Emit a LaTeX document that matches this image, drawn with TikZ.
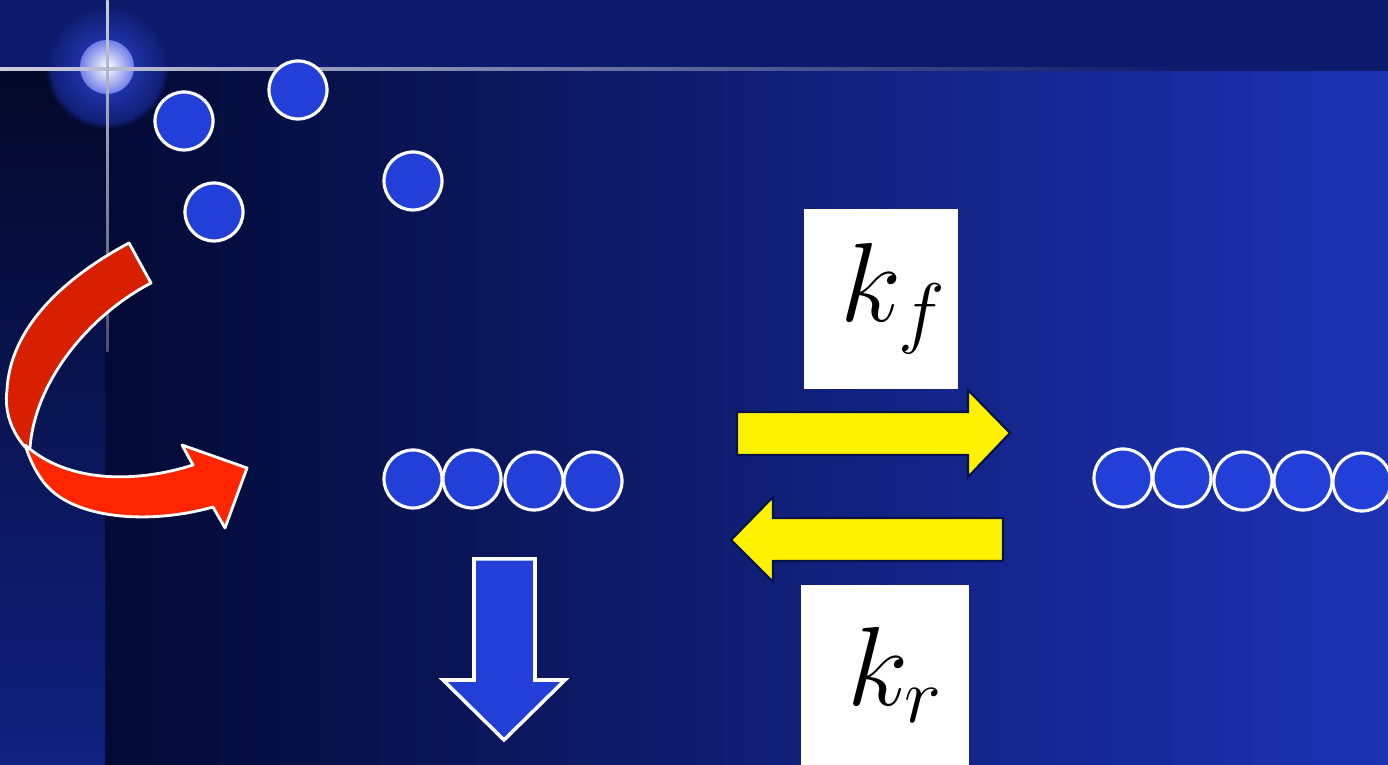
\documentclass[tikz,border=0pt]{standalone}
\usepackage{fix-cm}
\usetikzlibrary{positioning, fadings}

\definecolor{bandblue}{RGB}{11,26,106}
\definecolor{deepnavy}{RGB}{3,10,52}
\definecolor{brightnavy}{RGB}{28,50,180}
\definecolor{striptop}{RGB}{3,8,40}
\definecolor{stripbot}{RGB}{16,33,128}
\definecolor{beadblue}{RGB}{34,64,216}
\definecolor{linegray}{RGB}{205,205,222}
\definecolor{halo}{RGB}{40,66,212}
\definecolor{haloedge}{RGB}{14,28,108}
\definecolor{glowring}{RGB}{112,126,230}
\definecolor{darkred}{RGB}{216,32,0}
\definecolor{brightred}{RGB}{255,38,0}

\begin{document}
\begin{tikzpicture}[
    x=0.01cm, y=-0.01cm,
    bead/.style={circle, fill=beadblue, draw=white, line width=0.9pt, minimum size=0.58cm, inner sep=0pt},
    ratebox/.style={rectangle, fill=white, minimum width=1.54cm, minimum height=1.8cm, inner sep=0pt, font=\fontsize{32}{38}\selectfont},
    yellowarrow/.style={fill=yellow, draw=bandblue!70!black, line width=0.6pt},
    downarrow/.style={fill=beadblue, draw=white, line width=1pt, line join=miter},
    ribbon/.style={draw=white, line width=0.8pt, line join=round}
]
\useasboundingbox (0,0) rectangle (1388,765);

% Background
\fill[bandblue] (0,0) rectangle (1388,72);
\shade[left color=deepnavy, right color=brightnavy] (105,72) rectangle (1388,765);
\shade[top color=striptop, bottom color=stripbot] (0,72) rectangle (105,765);

% Glow and hairlines
\coordinate (glow) at (107,67);
\shade[inner color=halo, outer color=haloedge, path fading=circle with fuzzy edge 10 percent] (glow) circle[radius=0.62cm];
\shade[inner color=white, outer color=glowring] (glow) circle[radius=0.27cm];
\shade[left color=linegray, middle color=linegray!70!bandblue, right color=bandblue] (0,67.5) rectangle (1180,70.5);
\shade[top color=linegray, bottom color=linegray!35!deepnavy] (106,0) rectangle (108.5,352);

% Nodes
\node[bead] (free1) at (184,121) {};
\node[bead] (free2) at (298,90) {};
\node[bead] (free3) at (214,212) {};
\node[bead] (free4) at (413,181) {};

\node[bead] (mid1) at (413,479) {};
\node[bead] (mid2) at (472,479) {};
\node[bead] (mid3) at (534,481) {};
\node[bead] (mid4) at (593,481) {};

\node[bead] (long1) at (1123,478) {};
\node[bead] (long2) at (1182,478) {};
\node[bead] (long3) at (1243,481) {};
\node[bead] (long4) at (1303,481) {};
\node[bead] (long5) at (1362,482) {};

\node[ratebox] (kf) at (881,299) {\hspace*{0.25cm}$k_f$};
\node[ratebox, minimum width=1.68cm] (kr) at (885,675) {\hspace*{0.2cm}$k_r$};

% Arrows
\draw[ribbon, fill=darkred] (129,243) -- (151,283) .. controls (90,315) and (35,380) .. (30,448)
    -- (25,447) .. controls (12,432) and (4,412) .. (7,390) .. controls (10,330) and (60,280) .. (129,243) -- cycle;
\draw[ribbon, fill=brightred] (25,445) .. controls (30,460) and (35,470) .. (42,480)
    .. controls (70,520) and (150,525) .. (213,507) -- (225,528) -- (247,468) -- (182,445) -- (193,465)
    .. controls (140,482) and (70,485) .. (25,445) -- cycle;

\draw[downarrow] (474,559) -- (535,559) -- (535,680) -- (565,680) -- (504,740) -- (443,680) -- (474,680) -- cycle;

\draw[yellowarrow] (737,412) -- (968,412) -- (968,390) -- (1010,433) -- (968,477) -- (968,455) -- (737,455) -- cycle;
\draw[yellowarrow] (1003,518) -- (773,518) -- (773,497) -- (731,540) -- (773,582) -- (773,561) -- (1003,561) -- cycle;

\end{tikzpicture}
\end{document}
